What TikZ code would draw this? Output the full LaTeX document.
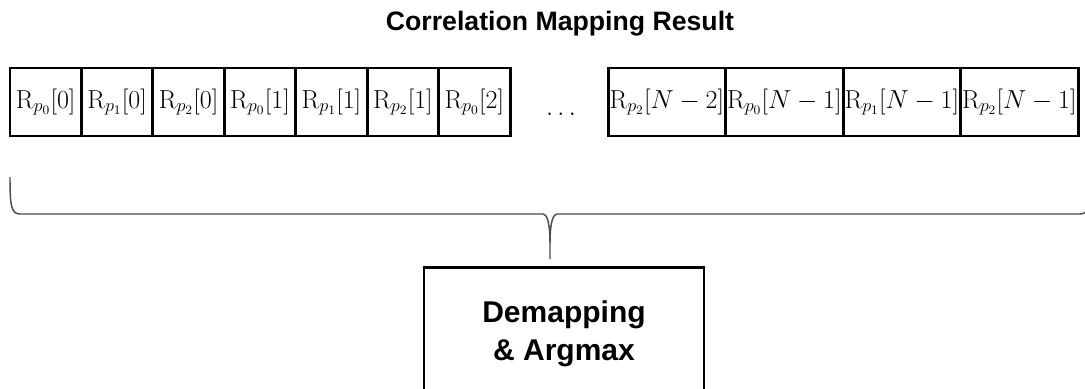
\RequirePackage{fix-cm}
\documentclass[tikz,border=0pt]{standalone}
\usepackage[no-math]{fontspec}
\setmainfont{Liberation Sans}
\definecolor{braceline}{RGB}{77, 77, 77}
\tikzset{
  cell/.style={draw, line width=2.2pt, minimum width=53.6pt, minimum height=51pt, inner sep=0pt, font=\fontsize{19.5}{22}\selectfont},
  widecell/.style={cell, minimum width=88.1pt},
  block/.style={draw, line width=2.2pt, minimum width=210pt, minimum height=100pt, align=center, font=\fontsize{22.5}{28.5}\selectfont\bfseries},
  bracepath/.style={draw=braceline, line width=1.1pt},
}
\begin{document}
\begin{tikzpicture}[x=0.75pt, y=-0.75pt]
  \useasboundingbox (0,0) rectangle (1085,389);
  \clip (0,0) rectangle (1085,389);

  \node[font=\fontsize{20}{24}\selectfont\bfseries, anchor=base] (title) at (560,31) {Correlation Mapping Result};

  % correlation values
  \node[cell]     (r00) at (  45.7,102) {$\mathrm{R}_{p_0}[0]$};
  \node[cell]     (r10) at ( 117.1,102) {$\mathrm{R}_{p_1}[0]$};
  \node[cell]     (r20) at ( 188.6,102) {$\mathrm{R}_{p_2}[0]$};
  \node[cell]     (r01) at ( 260.0,102) {$\mathrm{R}_{p_0}[1]$};
  \node[cell]     (r11) at ( 331.4,102) {$\mathrm{R}_{p_1}[1]$};
  \node[cell]     (r21) at ( 402.9,102) {$\mathrm{R}_{p_2}[1]$};
  \node[cell]     (r02) at ( 474.3,102) {$\mathrm{R}_{p_0}[2]$};
  \node[font=\fontsize{19.5}{22}\selectfont] (dots) at (561.0,114) {$\dots$};
  \node[widecell] (r2a) at ( 666.8,102) {$\mathrm{R}_{p_2}[N-2]$};
  \node[widecell] (r0b) at ( 784.3,102) {$\mathrm{R}_{p_0}[N-1]$};
  \node[widecell] (r1b) at ( 901.8,102) {$\mathrm{R}_{p_1}[N-1]$};
  \node[widecell] (r2b) at (1019.3,102) {$\mathrm{R}_{p_2}[N-1]$};

  \node[block] (demap) at (564,334) {Demapping\\\& Argmax};

  % brace
  \coordinate (braceL)   at (  10,177);
  \coordinate (braceR)   at (1090,177);
  \coordinate (braceTip) at ( 550,259);
  \draw[bracepath] (braceL) .. controls (10,205) and (11,214) .. (20,214) -- (543,214)
        .. controls (548,215) and (550,225) .. (550,245) -- (braceTip)
        (braceTip) -- (550,245) .. controls (550,225) and (552,215) .. (557,214) -- (1080,214)
        .. controls (1089,214) and (1090,205) .. (braceR);
\end{tikzpicture}
\end{document}
